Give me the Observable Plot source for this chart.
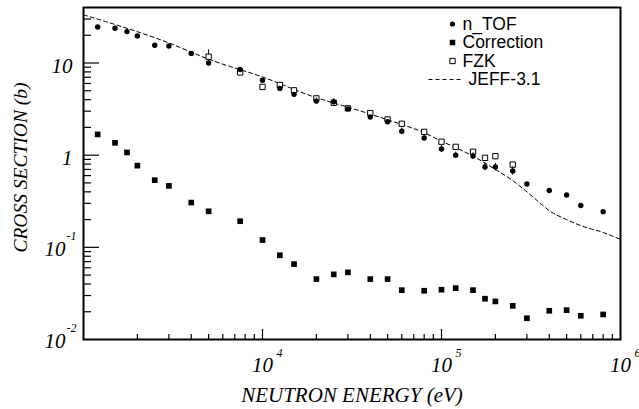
<!DOCTYPE html>
<html>
<head>
<meta charset="utf-8">
<script src="https://cdn.jsdelivr.net/npm/d3@7"></script>
<script src="https://cdn.jsdelivr.net/npm/@observablehq/plot@0.6"></script>
<style>
  html, body { margin: 0; padding: 0; background: #fff; }
  #chart { width: 639px; height: 409px; overflow: hidden; }
</style>
</head>
<body>
<div id="chart"></div>
<script>
// ---- data ----
const energies = [1200, 1500, 1750, 2000, 2500, 3000, 4000, 5000, 7500, 10000, 12500, 15000, 20000, 25000, 30000, 40000, 50000, 60000, 80000, 100000, 120000, 150000, 175000, 200000, 250000, 300000, 400000, 500000, 600000, 800000];
const nTof = [24.6, 23.8, 21.9, 19.6, 15.6, 15.3, 12.7, 10.0, 8.5, 6.5, 5.3, 4.57, 3.86, 3.79, 3.18, 2.59, 2.30, 1.82, 1.54, 1.17, 1.00, 0.98, 0.746, 0.746, 0.675, 0.487, 0.413, 0.37, 0.284, 0.244];
const nTofErr = [0, 0, 0, 0, 0, 0, 0, 0, 0, 0, 0, 0, 0.3, 0.3, 0, 0, 0, 0.15, 0.12, 0.1, 0.08, 0.08, 0.07, 0.07, 0.07, 0, 0, 0, 0, 0];
const correction = [1.68, 1.36, 1.07, 0.77, 0.535, 0.464, 0.306, 0.246, 0.192, 0.12, 0.082, 0.0658, 0.0452, 0.0509, 0.0535, 0.0452, 0.0452, 0.0343, 0.0338, 0.0347, 0.0361, 0.0343, 0.0277, 0.0259, 0.0232, 0.017, 0.0205, 0.0208, 0.0181, 0.0187];

const fzkE = [5000, 7500, 10000, 12500, 15000, 20000, 25000, 30000, 40000, 50000, 60000, 80000, 100000, 120000, 150000, 175000, 200000, 250000];
const fzk = [11.7, 7.9, 5.5, 5.77, 5.05, 4.13, 3.70, 3.22, 2.86, 2.44, 2.19, 1.79, 1.40, 1.23, 1.09, 0.935, 0.975, 0.79];
const fzkErr = [2.2, 0, 0, 0, 0, 0, 0, 0, 0, 0, 0, 0, 0, 0, 0, 0, 0, 0];

const jeffE = [1000, 3000, 5000, 10000, 20000, 30000, 50000, 80000, 100000, 150000, 200000, 250000, 300000, 350000, 400000, 500000, 600000, 800000, 1000000];
const jeff = [33.3, 16.5, 11.0, 7.05, 4.2, 3.32, 2.42, 1.75, 1.42, 0.975, 0.70, 0.53, 0.40, 0.31, 0.25, 0.20, 0.172, 0.145, 0.122];

const xDomain = [1e3, 1e6];
const yDomain = [0.01, 40];
const xMajor = [1e4, 1e5];
const xMinor = [2e3, 3e3, 4e3, 5e3, 6e3, 7e3, 8e3, 9e3, 2e4, 3e4, 4e4, 5e4, 6e4, 7e4, 8e4, 9e4, 2e5, 3e5, 4e5, 5e5, 6e5, 7e5, 8e5, 9e5];
const yMajor = [0.1, 1, 10];
const yMinor = [0.02, 0.03, 0.04, 0.05, 0.06, 0.07, 0.08, 0.09, 0.2, 0.3, 0.4, 0.5, 0.6, 0.7, 0.8, 0.9, 2, 3, 4, 5, 6, 7, 8, 9, 20, 30];
const xTickLabels = [{v: 1e4, base: "10", exp: "4"}, {v: 1e5, base: "10", exp: "5"}, {v: 1e6, base: "10", exp: "6"}];
const yTickLabels = [{v: 10, base: "10", exp: ""}, {v: 1, base: "1", exp: ""}, {v: 0.1, base: "10", exp: "-1"}, {v: 0.01, base: "10", exp: "-2"}];

const legendItems = [
  {label: "n_TOF", kind: "ntof"},
  {label: "Correction", kind: "corr"},
  {label: "FZK", kind: "fzk"},
  {label: "JEFF-3.1", kind: "jeff"}
];

// ---- layout ----
const W = 639, H = 409;
const mL = 83, mR = 19, mT = 7, mB = 70;
const innerW = W - mL - mR, innerH = H - mT - mB;
const serif = "'Liberation Serif', 'Times New Roman', serif";
const sans = "'Liberation Sans', Arial, Helvetica, sans-serif";
const serifText = {fontStyle: "italic", fontFamily: serif, fill: "black", lineAnchor: "middle"};

const ntofRows = energies.map((e, i) => ({e, s: nTof[i], err: nTofErr[i]}));
const corrRows = energies.map((e, i) => ({e, s: correction[i]}));
const fzkRows = fzkE.map((e, i) => ({e, s: fzk[i], err: fzkErr[i]}));
const jeffRows = jeffE.map((e, i) => ({e, s: jeff[i]}));

// short horizontal stroke used as the legend sample of the dashed curve
const dashSymbol = {draw(ctx) { ctx.moveTo(-17, 0); ctx.lineTo(17, 0); }};

const legendMarks = legendItems.flatMap((it, i) => {
  const dy = 16.5 + i * 18.5;
  const marks = [];
  if (it.kind === "ntof") marks.push(Plot.dot([it], {frameAnchor: "top-left", dx: 369, dy, r: 2.6, fill: "black"}));
  if (it.kind === "corr") marks.push(Plot.dot([it], {frameAnchor: "top-left", dx: 369, dy, r: 3.1, symbol: "square", fill: "black"}));
  if (it.kind === "fzk") marks.push(Plot.dot([it], {frameAnchor: "top-left", dx: 369, dy, r: 3.0, symbol: "square", fill: "white", stroke: "black", strokeWidth: 1}));
  if (it.kind === "jeff") marks.push(Plot.dot([it], {frameAnchor: "top-left", dx: 362, dy, r: 1, symbol: dashSymbol, fill: "none", stroke: "black", strokeWidth: 1, strokeDasharray: "4,3"}));
  marks.push(Plot.text([it], {frameAnchor: "top-left", dx: it.kind === "jeff" ? 385 : 379, dy, text: "label", textAnchor: "start", lineAnchor: "middle", fontSize: 17.5, fontFamily: sans, fill: "black"}));
  return marks;
});

const chart = Plot.plot({
  width: W, height: H,
  marginLeft: mL, marginRight: mR, marginTop: mT, marginBottom: mB,
  x: {type: "log", domain: xDomain, axis: null},
  y: {type: "log", domain: yDomain, axis: null},
  marks: [
    // ticks (inward)
    Plot.ruleX(xMinor, {x: d => d, insetTop: innerH - 5, stroke: "black", strokeWidth: 1.2}),
    Plot.ruleX(xMajor, {x: d => d, insetTop: innerH - 10, stroke: "black", strokeWidth: 1.2}),
    Plot.ruleY(yMinor, {y: d => d, insetRight: innerW - 8, stroke: "black", strokeWidth: 1.2}),
    Plot.ruleY(yMajor, {y: d => d, insetRight: innerW - 16, stroke: "black", strokeWidth: 1.2}),
    // tick labels
    Plot.text(xTickLabels, {x: "v", frameAnchor: "bottom", text: "base", dy: 26, textAnchor: "middle", fontSize: 21, ...serifText}),
    Plot.text(xTickLabels, {x: "v", frameAnchor: "bottom", text: "exp", dx: 14, dy: 14, textAnchor: "start", fontSize: 12, ...serifText}),
    Plot.text(yTickLabels.filter(d => d.exp === ""), {y: "v", frameAnchor: "left", text: "base", dx: -11, dy: 3, textAnchor: "end", fontSize: 21, ...serifText}),
    Plot.text(yTickLabels.filter(d => d.exp !== ""), {y: "v", frameAnchor: "left", text: "base", dx: -18, dy: 2, textAnchor: "end", fontSize: 21, ...serifText}),
    Plot.text(yTickLabels.filter(d => d.exp !== ""), {y: "v", frameAnchor: "left", text: "exp", dx: -17, dy: -11, textAnchor: "start", fontSize: 12, ...serifText}),
    // axis titles
    Plot.text(["NEUTRON ENERGY (eV)"], {frameAnchor: "bottom", text: d => d, dy: 56, textAnchor: "middle", fontSize: 21, ...serifText}),
    Plot.text(["CROSS SECTION (b)"], {frameAnchor: "left", text: d => d, dx: -63, dy: -6, rotate: -90, textAnchor: "middle", fontSize: 19.5, ...serifText}),
    // data
    Plot.line(jeffRows, {x: "e", y: "s", curve: "monotone-x", stroke: "black", strokeWidth: 1, strokeDasharray: "4,3"}),
    Plot.ruleX(fzkRows.filter(d => d.err > 0), {x: "e", y1: d => d.s - d.err, y2: d => d.s + d.err, stroke: "black", strokeWidth: 1}),
    Plot.dot(fzkRows, {x: "e", y: "s", r: 3.0, symbol: "square", fill: "white", stroke: "black", strokeWidth: 1}),
    Plot.ruleX(ntofRows.filter(d => d.err > 0), {x: "e", y1: d => d.s - d.err, y2: d => d.s + d.err, stroke: "black", strokeWidth: 1}),
    Plot.dot(ntofRows, {x: "e", y: "s", r: 2.7, fill: "black"}),
    Plot.dot(corrRows, {x: "e", y: "s", r: 3.2, symbol: "square", fill: "black"}),
    ...legendMarks,
    Plot.frame({stroke: "black", strokeWidth: 2})
  ]
});
document.getElementById("chart").appendChild(chart);
</script>
</body>
</html>
